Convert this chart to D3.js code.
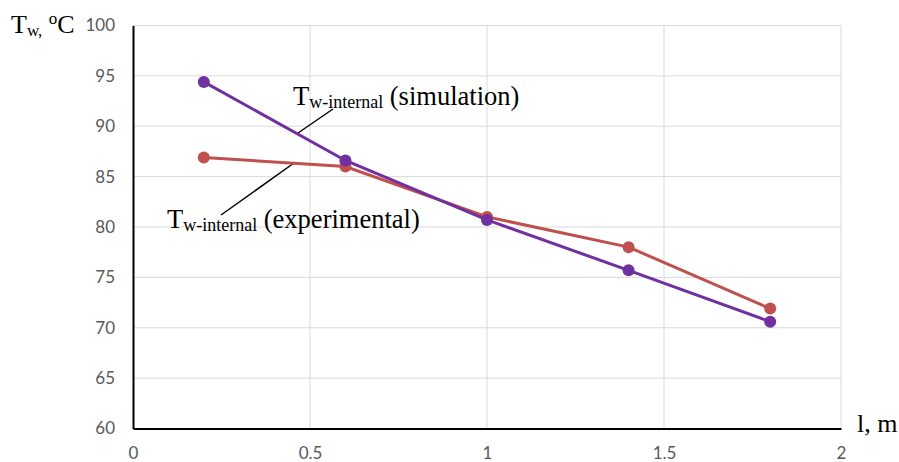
<!DOCTYPE html>
<html><head><meta charset="utf-8">
<script src="https://cdn.jsdelivr.net/npm/d3@7"></script>
<style>body{margin:0;background:#fff}svg{display:block}</style>
</head><body>
<script>
const lengths = [0.2, 0.6, 1.0, 1.4, 1.8];
const simulation = [94.4, 86.6, 80.7, 75.7, 70.6];
const experimental = [86.9, 86.0, 81.0, 78.0, 71.9];
const xTicks = [0, 0.5, 1, 1.5, 2];
const yTicks = [60, 65, 70, 75, 80, 85, 90, 95, 100];

const W = 899, H = 462;
const svg = d3.select("body").append("svg").attr("width", W).attr("height", H);
const x = d3.scaleLinear().domain([0, 2]).range([133, 841]);
const y = d3.scaleLinear().domain([60, 100]).range([428.5, 25.5]);
const serif = "'Liberation Serif','Times New Roman',serif";
const sans = "Lato, 'Open Sans', sans-serif";

// gridlines
svg.append("g").selectAll("line").data(yTicks.filter(d => d > 60)).join("line")
  .attr("x1", x(0)).attr("x2", x(2)).attr("y1", d => y(d)).attr("y2", d => y(d))
  .attr("stroke", "#d9d9d9").attr("stroke-width", 1);
svg.append("g").selectAll("line").data(xTicks.filter(d => d > 0)).join("line")
  .attr("x1", d => x(d)).attr("x2", d => x(d)).attr("y1", y(100)).attr("y2", y(60))
  .attr("stroke", "#d9d9d9").attr("stroke-width", 1);

// axes
const yAxis = svg.append("g").attr("transform", `translate(${x(0)},0)`)
  .call(d3.axisLeft(y).tickValues(yTicks).tickSize(0).tickPadding(18));
const xAxis = svg.append("g").attr("transform", `translate(0,${y(60)})`)
  .call(d3.axisBottom(x).tickValues(xTicks).tickSize(0).tickPadding(18).tickFormat(d3.format("")));
[yAxis, xAxis].forEach(g => {
  g.select(".domain").attr("stroke", "#000").attr("stroke-width", 2);
  g.selectAll("text").attr("fill", "#595959").attr("font-family", sans).attr("font-size", 17);
});

// leader lines
const leader = [
  { x1: 333, y1: 109, x2: 298, y2: 133 },
  { x1: 221, y1: 215, x2: 294, y2: 163 }
];
svg.append("g").selectAll("line").data(leader).join("line")
  .attr("x1", d => d.x1).attr("y1", d => d.y1).attr("x2", d => d.x2).attr("y2", d => d.y2)
  .attr("stroke", "#000").attr("stroke-width", 1.5);

// series
const series = [
  { vals: experimental, color: "#C0504D" },
  { vals: simulation, color: "#7030A0" }
];
const line = d3.line().x(d => x(d[0])).y(d => y(d[1]));
series.forEach(s => {
  const pts = lengths.map((l, i) => [l, s.vals[i]]);
  svg.append("path").datum(pts).attr("d", line).attr("fill", "none")
    .attr("stroke", s.color).attr("stroke-width", 3);
  svg.append("g").selectAll("circle").data(pts).join("circle")
    .attr("cx", d => x(d[0])).attr("cy", d => y(d[1])).attr("r", 6).attr("fill", s.color);
});

// annotations
function label(px, py, sub, rest) {
  const t = svg.append("text").attr("x", px).attr("y", py)
    .attr("font-family", serif).attr("font-size", 26.5).attr("fill", "#000");
  t.append("tspan").text("T");
  t.append("tspan").attr("font-size", 18).attr("dy", 3).text(sub);
  t.append("tspan").attr("dy", -3).text(rest);
}
label(293, 105, "w-internal", " (simulation)");
label(167, 228, "w-internal", " (experimental)");

// axis titles
const yt = svg.append("text").attr("x", 11).attr("y", 33)
  .attr("font-family", serif).attr("font-size", 26).attr("fill", "#000");
yt.append("tspan").text("T");
yt.append("tspan").attr("font-size", 17).attr("dy", 3).text("w,");
yt.append("tspan").attr("dy", -3).text(" ");
yt.append("tspan").attr("font-size", 17).attr("dy", -9).text("o");
yt.append("tspan").attr("dy", 9).text("C");

svg.append("text").attr("x", 857).attr("y", 432)
  .attr("font-family", serif).attr("font-size", 26).attr("fill", "#000").text("l, m");
</script>
</body></html>
